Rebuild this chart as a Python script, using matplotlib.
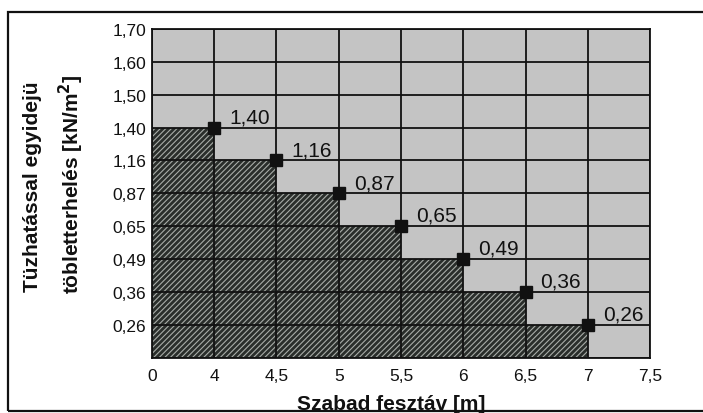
import matplotlib
matplotlib.use("Agg")
import matplotlib.pyplot as plt
import matplotlib.patches as mpatches

# ── Data ──────────────────────────────────────────────────────────────────────
x_labels = ["0", "4", "4,5", "5", "5,5", "6", "6,5", "7", "7,5"]
y_labels = ["", "0,26", "0,36", "0,49", "0,65", "0,87", "1,16", "1,40",
            "1,50", "1,60", "1,70"]
span_end = ["4", "4,5", "5", "5,5", "6", "6,5", "7"]       # span (m) for each step
load     = ["1,40", "1,16", "0,87", "0,65", "0,49", "0,36", "0,26"]  # kN/m2

plt.rcParams["font.family"] = ["Liberation Sans", "DejaVu Sans"]
plt.rcParams["hatch.linewidth"] = 0.8
plt.rcParams["hatch.color"] = "#a8aca8"

BG    = "#c4c4c4"
DARK  = "#2a2e2b"

fig = plt.figure(figsize=(7.03, 4.14), dpi=100)
ax = fig.add_axes([0.216, 0.133, 0.709, 0.795])
ax.set_facecolor(BG)

# categorical axes: tick index = position on the (evenly spaced) axis
xi = [x_labels.index(s) for s in span_end]
yi = [y_labels.index(v) for v in load]

# hatched step area (one bar per span segment)
for x, h in zip(xi, yi):
    ax.bar(x - 0.5, h, width=1.0, bottom=0, facecolor=DARK,
           edgecolor="#a8aca8", linewidth=0, hatch="//////", zorder=1)

# markers and value labels
ax.plot(xi, yi, linestyle="none", marker="s", markersize=9,
        color="#111111", zorder=4)
for x, h, v in zip(xi, yi, load):
    ax.text(x + 0.24, h + 0.33, v, fontsize=15, ha="left", va="center",
            color="#111111", zorder=5)

ax.set_xlim(0, len(x_labels) - 1)
ax.set_ylim(0, len(y_labels) - 1)
ax.set_xticks(range(len(x_labels)))
ax.set_xticklabels(x_labels)
ax.set_yticks(range(len(y_labels)))
ax.set_yticklabels(y_labels)
ax.tick_params(length=0, labelsize=12.5, colors="#111111")
ax.tick_params(axis="y", pad=4)
ax.tick_params(axis="x", pad=7)
ax.grid(True, color="#111111", linewidth=1.3, zorder=2)
ax.set_axisbelow(False)
for sp in ax.spines.values():
    sp.set_linewidth(1.3)
    sp.set_color("#111111")

fig.text(0.556, 0.022, "Szabad fesztáv [m]", ha="center", va="center",
         fontsize=15, fontweight="bold", color="#111111")
fig.text(0.046, 0.55, "Tüzhatással egyidejü", rotation=90, ha="center",
         va="center", fontsize=15, fontweight="bold", color="#111111")
fig.text(0.102, 0.555, "töbletterhelés [kN/m$^\\mathbf{2}$]", rotation=90,
         ha="center", va="center", fontsize=15, fontweight="bold",
         color="#111111")

# outer frame of the scanned chart
fig.patches.append(mpatches.Rectangle(
    (0.012, 0.006), 1.2, 0.963, transform=fig.transFigure,
    fill=False, edgecolor="#111111", linewidth=1.6))

fig.savefig("out.png", dpi=100, facecolor="white")
